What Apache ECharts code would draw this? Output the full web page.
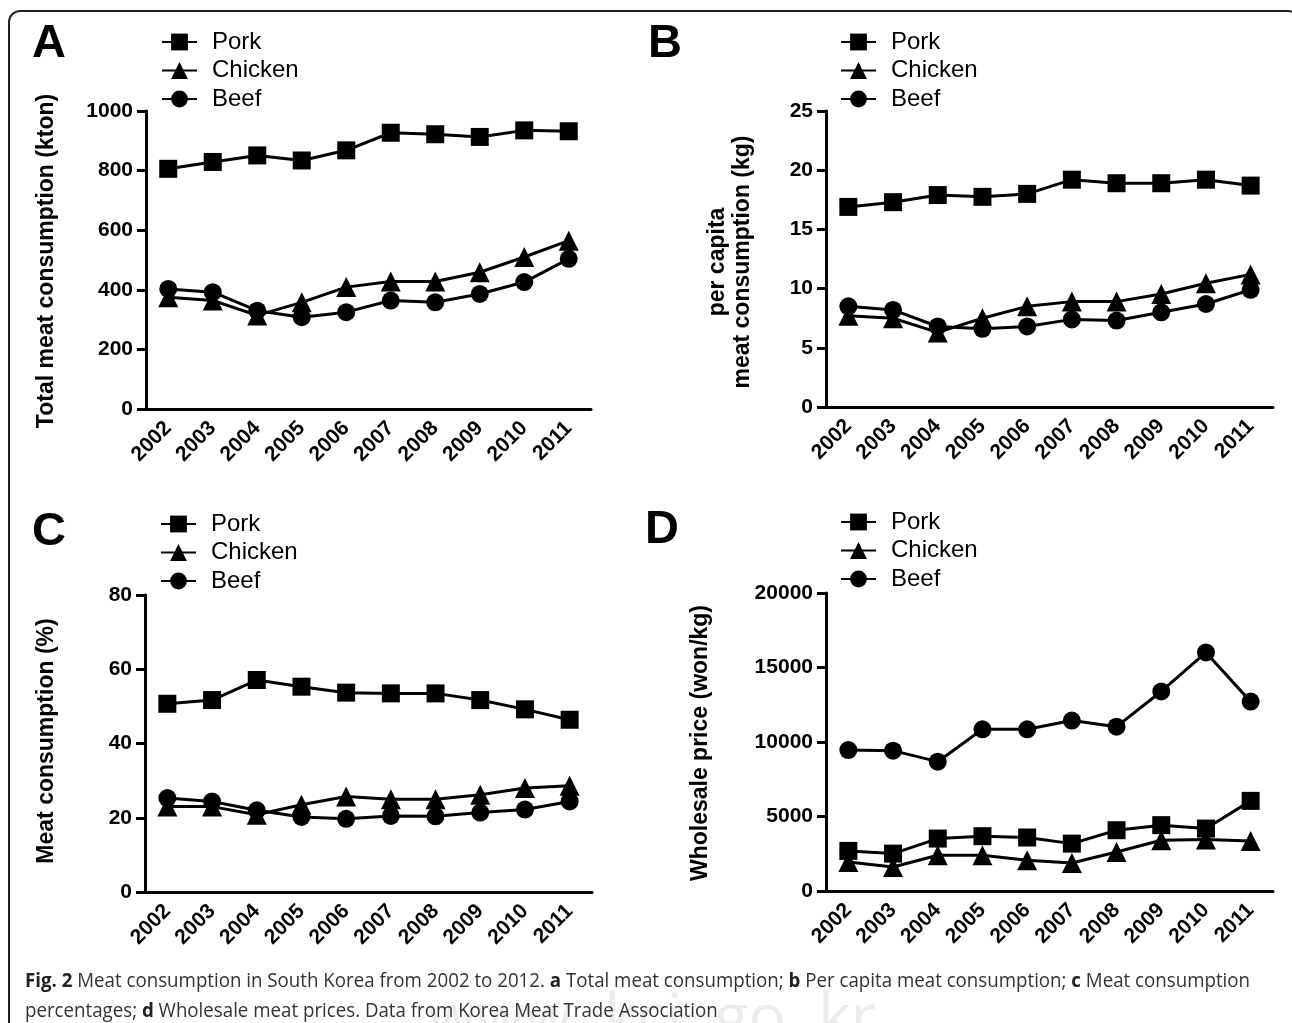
<!DOCTYPE html>
<html>
<head>
<meta charset="utf-8">
<script src="https://cdn.jsdelivr.net/npm/echarts@6/dist/echarts.min.js"></script>
<style>
  html, body { margin: 0; padding: 0; background: #fff; }
  #chart { width: 1292px; height: 1023px; }
</style>
</head>
<body>
<div id="chart"></div>
<script>
// ---------- data ----------
const years = ['2002', '2003', '2004', '2005', '2006', '2007', '2008', '2009', '2010', '2011'];
const seriesNames = ['Pork', 'Chicken', 'Beef'];

// A: Total meat consumption (kton)
const porkTotal    = [806, 829, 851, 834, 868, 927, 922, 913, 935, 932];
const chickenTotal = [375, 364, 314, 358, 409, 428, 428, 459, 510, 565];
const beefTotal    = [403, 392, 330, 308, 325, 364, 358, 386, 426, 504];

// B: per capita meat consumption (kg)
const porkPerCapita    = [16.9, 17.3, 17.9, 17.75, 18.0, 19.2, 18.9, 18.9, 19.2, 18.7];
const chickenPerCapita = [7.7, 7.5, 6.3, 7.5, 8.5, 8.9, 8.9, 9.55, 10.45, 11.2];
const beefPerCapita    = [8.5, 8.2, 6.8, 6.6, 6.8, 7.4, 7.3, 8.0, 8.7, 9.9];

// C: Meat consumption (%)
const porkPct    = [50.7, 51.7, 57.1, 55.3, 53.7, 53.5, 53.5, 51.7, 49.2, 46.4];
const chickenPct = [23.0, 23.0, 20.8, 23.5, 25.7, 25.0, 25.0, 26.2, 28.0, 28.6];
const beefPct    = [25.3, 24.4, 22.0, 20.2, 19.7, 20.5, 20.4, 21.4, 22.2, 24.4];

// D: Wholesale price (won/kg)
const porkPrice    = [2690, 2510, 3520, 3680, 3590, 3180, 4080, 4420, 4190, 6050];
const chickenPrice = [1950, 1610, 2400, 2400, 2060, 1880, 2620, 3410, 3450, 3360];
const beefPrice    = [9460, 9420, 8680, 10850, 10850, 11440, 11030, 13390, 16010, 12710];

const yMax = [1000, 25, 80, 20000];
const yInterval = [200, 5, 20, 5000];
const panelLetters = ['A', 'B', 'C', 'D'];
const yTitles = ['Total meat consumption (kton)', 'per capita\nmeat consumption (kg)', 'Meat consumption (%)', 'Wholesale price (won/kg)'];

// ---------- layout ----------
const FONT = '"Liberation Sans", Arial, Helvetica, sans-serif';
const grids = [
  { left: 146, top: 111, width: 445, height: 298 },
  { left: 826, top: 111, width: 447, height: 296 },
  { left: 145, top: 595, width: 447, height: 297 },
  { left: 826, top: 593, width: 447, height: 298 }
];
const legendPos = [
  { left: 156, top: 25 },
  { left: 835, top: 25 },
  { left: 155, top: 507 },
  { left: 835, top: 505 }
];
const letterPos = [[32, 44], [648, 44], [32, 532], [645, 530]];
const titlePos = [[47, 261], [730, 262], [47, 741], [701, 743]];

const panelData = [
  [porkTotal, chickenTotal, beefTotal],
  [porkPerCapita, chickenPerCapita, beefPerCapita],
  [porkPct, chickenPct, beefPct],
  [porkPrice, chickenPrice, beefPrice]
];
const symbols = ['rect', 'triangle', 'circle'];
const symbolSizes = [18, 20, 18];

const xAxes = [], yAxes = [], series = [], legends = [];
for (let p = 0; p < 4; p++) {
  xAxes.push({
    type: 'category', gridIndex: p, data: years, boundaryGap: true,
    axisLine: { lineStyle: { color: '#000', width: 3 } },
    axisTick: { alignWithLabel: true, interval: 0, length: 10, lineStyle: { color: '#000', width: 3 } },
    axisLabel: { interval: 0, rotate: 45, margin: 16, color: '#000', fontWeight: 'bold', fontSize: 21, fontFamily: FONT },
    splitLine: { show: false }
  });
  yAxes.push({
    type: 'value', gridIndex: p, min: 0, max: yMax[p], interval: yInterval[p],
    axisLine: { show: true, lineStyle: { color: '#000', width: 3 } },
    axisTick: { show: true, length: 9, lineStyle: { color: '#000', width: 3 } },
    axisLabel: { margin: 13, color: '#000', fontWeight: 'bold', fontSize: 21, fontFamily: FONT, formatter: v => String(v) },
    splitLine: { show: false }
  });
  for (let s = 0; s < 3; s++) {
    series.push({
      name: seriesNames[s], type: 'line', xAxisIndex: p, yAxisIndex: p,
      data: panelData[p][s],
      symbol: symbols[s], symbolSize: symbolSizes[s],
      itemStyle: { color: '#000' },
      lineStyle: { color: '#000', width: 3 },
      emphasis: { disabled: true },
      silent: true, animation: false
    });
  }
  legends.push({
    orient: 'vertical', left: legendPos[p].left, top: legendPos[p].top,
    data: seriesNames, itemWidth: 35, itemHeight: 21, itemGap: 4.5,
    selectedMode: false,
    textStyle: { color: '#000', fontSize: 24, fontFamily: FONT, padding: [0, 0, 0, 10] }
  });
}

// caption measurement (layout only)
const capFont = '"Open Sans", "DejaVu Sans", sans-serif';
const capSize = 20;
const cv = document.createElement('canvas').getContext('2d');
function w(text, bold) { cv.font = (bold ? 'bold ' : '') + capSize + 'px ' + capFont; return cv.measureText(text).width; }
const line1Parts = [['Fig. 2', true], [' Meat consumption in South Korea from 2002 to 2012. ', false], ['a', true], [' Total meat consumption; ', false], ['b', true], [' Per capita meat consumption; ', false], ['c', true], [' Meat consumption', false]];
const line2Parts = [['percentages; ', false], ['d', true], [' Wholesale meat prices. Data from Korea Meat Trade Association', false]];
const line1W = line1Parts.reduce((a, t) => a + w(t[0], t[1]), 0);
const capScale = line1W > 0 ? 1225 / line1W : 1;
function richText(parts) { return parts.map(t => t[1] ? '{b|' + t[0] + '}' : t[0]).join(''); }

const graphics = [];
// frame (right and bottom edges fall outside the picture, as in the original)
graphics.push({
  type: 'rect', shape: { x: 9, y: 11, width: 1290, height: 1030, r: 11 },
  style: { fill: 'none', stroke: '#222', lineWidth: 2 }, silent: true, z: 1
});
// watermark
graphics.push({
  type: 'text', x: 428, y: 1020, silent: true, z: 0,
  style: { text: 'www. kci. go. kr', font: '62px "Open Sans", sans-serif', fill: '#ececec', align: 'left', verticalAlign: 'middle' }
});
for (let p = 0; p < 4; p++) {
  graphics.push({
    type: 'text', x: letterPos[p][0], y: letterPos[p][1], silent: true,
    style: { text: panelLetters[p], font: 'bold 47px ' + FONT, fill: '#000', align: 'left', verticalAlign: 'middle' }
  });
  graphics.push({
    type: 'text', x: titlePos[p][0], y: titlePos[p][1], rotation: Math.PI / 2, silent: true,
    style: { text: yTitles[p], font: 'bold 23px ' + FONT, fill: '#000', align: 'center', verticalAlign: 'middle', lineHeight: 25 }
  });
}
const richDef = { b: { fontWeight: 'bold', fontSize: capSize, fontFamily: capFont, fill: '#222' } };
graphics.push({
  type: 'text', x: 25, y: 981, scaleX: capScale, silent: true, z: 5,
  style: { text: richText(line1Parts), font: capSize + 'px ' + capFont, fill: '#333', align: 'left', verticalAlign: 'middle', rich: richDef }
});
graphics.push({
  type: 'text', x: 25, y: 1011, scaleX: capScale, silent: true, z: 5,
  style: { text: richText(line2Parts), font: capSize + 'px ' + capFont, fill: '#333', align: 'left', verticalAlign: 'middle', rich: richDef }
});

const chart = echarts.init(document.getElementById('chart'), null, { renderer: 'canvas' });
chart.setOption({
  backgroundColor: '#fff',
  animation: false,
  grid: grids.map(g => Object.assign({ containLabel: false }, g)),
  xAxis: xAxes,
  yAxis: yAxes,
  legend: legends,
  series: series,
  graphic: { elements: graphics }
});
</script>
</body>
</html>
